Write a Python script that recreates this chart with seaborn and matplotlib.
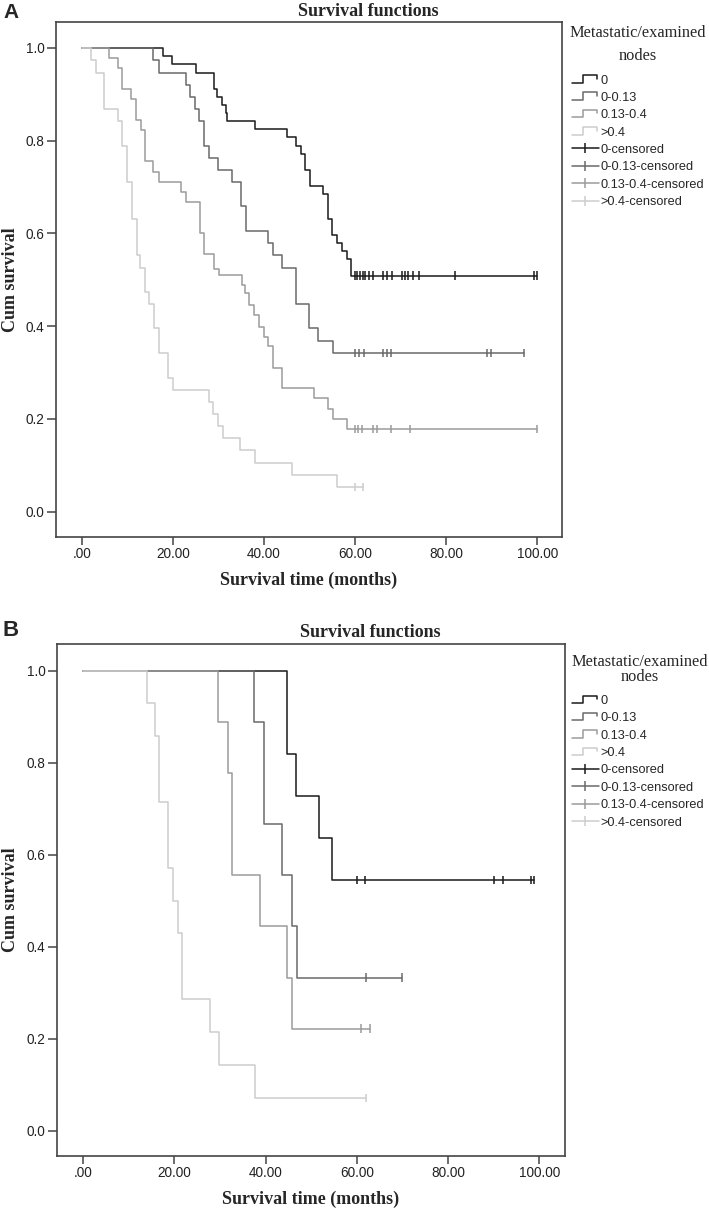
import matplotlib
matplotlib.use('Agg')
import matplotlib.pyplot as plt
import pandas as pd
import seaborn as sns
from matplotlib.legend_handler import HandlerBase
from matplotlib.lines import Line2D

W, H = 709, 1212

groups = ['0', '0-0.13', '0.13-0.4', '>0.4']
colors = ['#1a1a1a', '#6a6a6a', '#9b9b9b', '#cdcdcd']
x_ticks = [0, 20, 40, 60, 80, 100]
x_labels = ['.00', '20.00', '40.00', '60.00', '80.00', '100.00']
y_ticks = [0.0, 0.2, 0.4, 0.6, 0.8, 1.0]
y_labels = ['0.0', '0.2', '0.4', '0.6', '0.8', '1.0']

# panel A - event times (months) and survival after each event
a0_time = [0, 17.9, 19.9, 25.0, 29.0, 29.8, 30.9, 31.6, 32.0, 38.0, 45.0, 47.0,
           48.1, 49.0, 50.1, 52.9, 54.0, 55.0, 56.0, 57.1, 58.2, 59.1]
a0_surv = [1.0, 0.982, 0.965, 0.947, 0.912, 0.895, 0.877, 0.860, 0.842, 0.825, 0.807, 0.789,
           0.772, 0.737, 0.702, 0.684, 0.632, 0.596, 0.579, 0.561, 0.544, 0.509]
a0_cens = [60.0, 60.5, 61.1, 61.7, 62.3, 63.1, 64.0, 66.2, 67.1, 68.1, 70.3, 71.0,
           71.7, 72.7, 74.0, 82.0, 99.2, 100.0]

a1_time = [0, 15.7, 17.0, 22.9, 23.8, 24.9, 25.8, 26.9, 27.9, 30.0, 33.1, 35.0,
           36.0, 41.0, 42.1, 44.0, 47.0, 50.0, 51.9, 55.1]
a1_surv = [1.0, 0.974, 0.947, 0.921, 0.895, 0.868, 0.842, 0.789, 0.763, 0.737, 0.711, 0.658,
           0.605, 0.579, 0.553, 0.526, 0.447, 0.395, 0.368, 0.342]
a1_cens = [60.0, 60.8, 62.0, 66.1, 67.0, 68.0, 89.0, 89.8, 97.2]

a2_time = [0, 6.1, 8.0, 8.9, 10.8, 11.9, 13.0, 14.0, 15.7, 17.0, 21.9, 22.9, 26.0,
           26.9, 29.0, 30.1, 35.1, 35.9, 36.8, 37.8, 39.0, 40.0, 41.0, 42.1, 44.0,
           51.0, 54.0, 55.1, 58.2]
a2_surv = [1.0, 0.978, 0.956, 0.911, 0.889, 0.844, 0.822, 0.756, 0.733, 0.711, 0.689, 0.667,
           0.600, 0.556, 0.524, 0.511, 0.489, 0.471, 0.446, 0.424, 0.399, 0.377, 0.356,
           0.309, 0.266, 0.244, 0.222, 0.200, 0.178]
a2_cens = [60.0, 60.7, 61.5, 64.0, 64.8, 68.0, 72.1, 100.0]

a3_time = [0, 2.0, 3.1, 4.9, 8.0, 8.9, 10.0, 11.0, 12.1, 12.8, 13.9, 14.8, 15.9,
           17.0, 19.0, 20.0, 27.9, 28.9, 30.0, 31.0, 34.8, 38.0, 46.1, 56.0]
a3_surv = [1.0, 0.974, 0.947, 0.868, 0.842, 0.789, 0.711, 0.632, 0.553, 0.526, 0.474, 0.447,
           0.395, 0.342, 0.289, 0.263, 0.237, 0.211, 0.184, 0.158, 0.132, 0.105, 0.079, 0.053]
a3_cens = [60.0, 61.8]

# panel B
b0_time = [0, 44.7, 46.7, 51.6, 54.6]
b0_surv = [1.0, 0.818, 0.727, 0.636, 0.545]
b0_cens = [60.0, 61.8, 90.0, 92.0, 98.2, 98.9]

b1_time = [0, 37.5, 39.6, 43.5, 45.8, 46.8]
b1_surv = [1.0, 0.889, 0.667, 0.556, 0.444, 0.333]
b1_cens = [62.0, 70.0]

b2_time = [0, 29.6, 31.7, 32.7, 38.8, 44.8, 45.8]
b2_surv = [1.0, 0.889, 0.778, 0.556, 0.444, 0.333, 0.222]
b2_cens = [61.0, 63.0]

b3_time = [0, 13.9, 15.7, 16.7, 18.7, 19.6, 20.7, 21.7, 27.8, 29.8, 37.7]
b3_surv = [1.0, 0.929, 0.857, 0.714, 0.571, 0.500, 0.429, 0.286, 0.214, 0.143, 0.071]
b3_cens = [62.0]


class StepHandler(HandlerBase):
    # little SPSS-like step icon for the survival lines
    def create_artists(self, legend, orig_handle, xdescent, ydescent,
                       width, height, fontsize, trans):
        x0, y0 = -xdescent, -ydescent
        xs = [x0, x0 + 0.42 * width, x0 + 0.42 * width, x0 + 0.92 * width, x0 + 0.92 * width]
        ys = [y0 + 0.1 * height, y0 + 0.1 * height, y0 + 0.95 * height,
              y0 + 0.95 * height, y0 + 0.55 * height]
        line = Line2D(xs, ys, color=orig_handle.get_color(),
                      lw=orig_handle.get_linewidth(), transform=trans)
        return [line]


def km_frames(times, survs, cens):
    rows, marks = [], []
    for g, t, s, c in zip(groups, times, survs, cens):
        for x, y in zip(t + [max(c)], s + [s[-1]]):
            rows.append((g, x, y))
        for x in c:
            marks.append((g, x, s[-1]))
    return (pd.DataFrame(rows, columns=['group', 'time', 'surv']),
            pd.DataFrame(marks, columns=['group', 'time', 'surv']))


def fx(px):
    return px / W


def fy(py):
    return 1 - py / H


def km_panel(fig, box, times, survs, cens, xlim, ylim, letter, lay):
    left, top, right, bottom = box
    ax = fig.add_axes([fx(left), fy(bottom), (right - left) / W, (bottom - top) / H])
    pal = dict(zip(groups, colors))
    lines, marks = km_frames(times, survs, cens)

    sns.lineplot(data=lines, x='time', y='surv', hue='group', hue_order=groups,
                 palette=pal, drawstyle='steps-post', estimator=None, sort=False,
                 lw=1.1, legend=False, ax=ax)
    sns.scatterplot(data=marks, x='time', y='surv', hue='group', hue_order=groups,
                    palette=pal, marker='|', s=36, linewidth=1.1, legend=False, ax=ax)

    ax.set_xlim(*xlim)
    ax.set_ylim(*ylim)
    ax.set_xticks(x_ticks)
    ax.set_xticklabels(x_labels)
    ax.set_yticks(y_ticks)
    ax.set_yticklabels(y_labels)
    ax.tick_params(axis='y', length=6.7, width=1.1, color='#444444', pad=1.5,
                   labelsize=9.8, labelcolor='#222222')
    ax.tick_params(axis='x', length=5.5, width=1.1, color='#444444', pad=1.8,
                   labelsize=9.8, labelcolor='#222222')
    for sp in ax.spines.values():
        sp.set_visible(True)
        sp.set_color('#444444')
        sp.set_linewidth(1.2)

    serif_bold = dict(family=['Liberation Serif', 'DejaVu Serif'], fontweight='bold', size=13)
    ax.set_xlabel('Survival time (months)', **serif_bold)
    ax.set_ylabel('Cum survival', **serif_bold)
    ax.xaxis.set_label_coords(0.5, (bottom - lay['xlab_top']) / (bottom - top))
    ax.yaxis.set_label_coords((lay['ylab_right'] - left) / (right - left), 0.5)

    fig.text(fx(lay['title_x']), fy(lay['title_base']), 'Survival functions',
             ha='center', va='baseline', **serif_bold)
    fig.text(fx(3), fy(lay['letter_base']), letter, ha='left', va='baseline',
             fontweight='bold', size=lay['letter_size'], family=['Liberation Sans', 'DejaVu Sans'])

    for txt, py in zip(['Metastatic/examined', 'nodes'], lay['leg_title']):
        fig.text(fx(lay['leg_cx']), fy(py), txt, ha='center', va='center', size=11.8,
                 family=['Liberation Serif', 'DejaVu Serif'])

    handles = [Line2D([], [], color=c, lw=1.1) for c in colors]
    handles += [Line2D([], [], color=c, lw=1.1, marker='|', markersize=7.5,
                       markeredgewidth=1.1) for c in colors]
    labels = groups + [g + '-censored' for g in groups]
    ax.legend(handles, labels, handler_map={h: StepHandler() for h in handles[:4]},
              loc='upper left', bbox_to_anchor=(fx(572), fy(lay['leg_top'])),
              bbox_transform=fig.transFigure, frameon=False, fontsize=9.2,
              handlelength=2.1, handletextpad=0.15, labelspacing=0.42,
              borderpad=0, borderaxespad=0, numpoints=1)
    return ax


def main():
    sns.set_theme(style='ticks')
    plt.rcParams['font.family'] = ['Liberation Sans', 'DejaVu Sans']

    fig = plt.figure(figsize=(W / 100, H / 100), dpi=100)

    km_panel(fig, (56, 22, 562, 537),
             [a0_time, a1_time, a2_time, a3_time],
             [a0_surv, a1_surv, a2_surv, a3_surv],
             [a0_cens, a1_cens, a2_cens, a3_cens],
             (-5.64, 105.45), (-0.055, 1.056), 'A',
             dict(xlab_top=572, ylab_right=19, title_x=368, title_base=16.5,
                  letter_base=18.5, letter_size=15, leg_cx=638, leg_title=(33, 56),
                  leg_top=74.5))

    km_panel(fig, (57, 644, 565, 1156),
             [b0_time, b1_time, b2_time, b3_time],
             [b0_surv, b1_surv, b2_surv, b3_surv],
             [b0_cens, b1_cens, b2_cens, b3_cens],
             (-5.75, 105.66), (-0.055, 1.058), 'B',
             dict(xlab_top=1190.5, ylab_right=19, title_x=370, title_base=637,
                  letter_base=636.5, letter_size=16, leg_cx=640, leg_title=(661.7, 677.3),
                  leg_top=695))

    fig.savefig('out.png', dpi=100)


if __name__ == '__main__':
    main()
